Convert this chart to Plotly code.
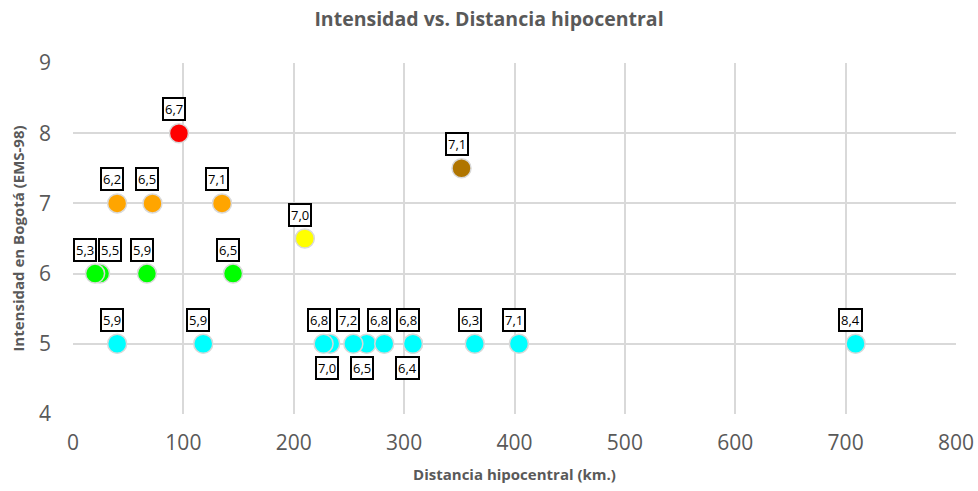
import plotly.graph_objects as go

# ---- data ----
distancia = [96, 40, 72, 135, 352, 210, 24.5, 20, 67, 145,
             40, 118, 233, 227, 266, 254, 282, 308, 308, 364, 404, 709]
intensidad = [8, 7, 7, 7, 7.5, 6.5, 6, 6, 6, 6,
              5, 5, 5, 5, 5, 5, 5, 5, 5, 5, 5, 5]
magnitud = [6.7, 6.2, 6.5, 7.1, 7.1, 7.0, 5.5, 5.3, 5.9, 6.5,
            5.9, 5.9, 7.0, 6.8, 6.5, 7.2, 6.8, 6.4, 6.8, 6.3, 7.1, 8.4]

x_ticks = [0, 100, 200, 300, 400, 500, 600, 700, 800]
y_ticks = [4, 5, 6, 7, 8, 9]

# ---- styling ----
color_por_intensidad = {8: "#FF0000", 7.5: "#B07500", 7: "#FFA500",
                        6.5: "#FFFF00", 6: "#00FF00", 5: "#00FFFF"}
# label placement (index -> (xshift, yshift)); default is above the point
label_offsets = {6: (10, 24), 7: (-10, 24), 12: (-3, -24), 14: (-5, -24), 17: (-5, -24)}
default_offset = (-5, 24)

gray = "#595959"
font_family = "'Open Sans', sans-serif"

fig = go.Figure()
for level in [5, 6, 6.5, 7, 7.5, 8]:
    idx = [i for i, v in enumerate(intensidad) if v == level]
    fig.add_trace(go.Scatter(
        x=[distancia[i] for i in idx],
        y=[intensidad[i] for i in idx],
        mode="markers",
        marker=dict(size=19, color=color_por_intensidad[level],
                    line=dict(color="#D9D9D9", width=1.5)),
        showlegend=False,
        hoverinfo="x+y",
    ))

for i, (x, y, m) in enumerate(zip(distancia, intensidad, magnitud)):
    xs, ys = label_offsets.get(i, default_offset)
    fig.add_annotation(
        x=x, y=y, text=f"{m:.1f}".replace(".", ","),
        showarrow=False, xshift=xs, yshift=ys,
        font=dict(family=font_family, size=13, color="black"),
        bgcolor="white", bordercolor="black", borderwidth=2, borderpad=1,
    )

fig.update_layout(
    width=978, height=491,
    margin=dict(l=73, r=22, t=63, b=77),
    paper_bgcolor="white", plot_bgcolor="white",
    title=dict(text="<b>Intensidad vs. Distancia hipocentral</b>",
               x=0.5, xanchor="center", y=1 - 19 / 491, yanchor="middle",
               font=dict(family=font_family, size=19.5, color=gray)),
    font=dict(family=font_family, color=gray),
)
fig.update_xaxes(
    range=[0, 800], tickvals=x_ticks, showgrid=True, gridcolor="#D9D9D9",
    gridwidth=1.5, zeroline=False, showline=False,
    tickfont=dict(size=21, color=gray), ticks="", ticklabelstandoff=14,
    title=dict(text="<b>Distancia hipocentral (km.)</b>", standoff=14,
               font=dict(size=15, color=gray)),
    automargin=False,
)
fig.update_yaxes(
    range=[4, 9], tickvals=y_ticks, showgrid=True, gridcolor="#D9D9D9",
    gridwidth=1.5, zeroline=False, showline=False,
    tickfont=dict(size=21, color=gray), ticks="", ticklabelstandoff=21,
    title=dict(text="<b>Intensidad en Bogotá (EMS-98)</b>", standoff=10,
               font=dict(size=15, color=gray)),
    automargin=False,
)

fig.write_html("out.html")
